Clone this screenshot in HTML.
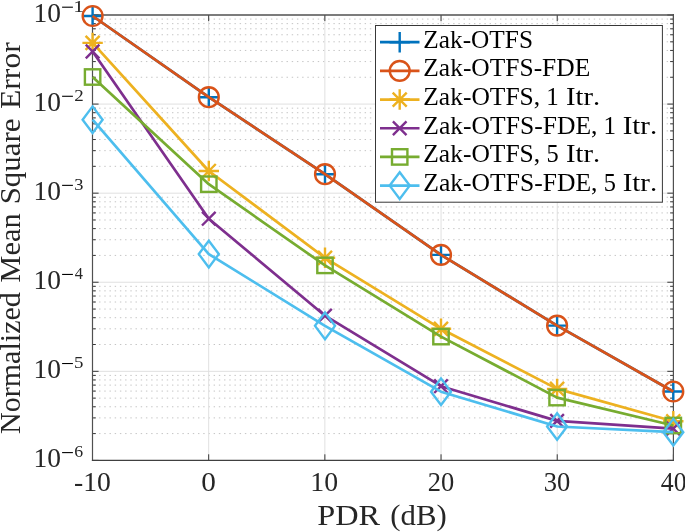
<!DOCTYPE html>
<html><head><meta charset="utf-8"><style>html,body{margin:0;padding:0;background:#fff;width:685px;height:532px;overflow:hidden}svg{display:block}text{font-family:"Liberation Serif",serif;font-kerning:none}text{filter:grayscale(1)}</style></head>
<body><svg width="685" height="532" viewBox="0 0 685 532" font-family="Liberation Serif, serif" fill="#262626"><rect x="0" y="0" width="685" height="532" fill="#fff"/><path d="M92.50 433.58H673.40M92.50 417.90H673.40M92.50 406.77H673.40M92.50 398.14H673.40M92.50 391.08H673.40M92.50 385.12H673.40M92.50 379.95H673.40M92.50 375.40H673.40M92.50 344.50H673.40M92.50 328.82H673.40M92.50 317.69H673.40M92.50 309.06H673.40M92.50 302.00H673.40M92.50 296.04H673.40M92.50 290.87H673.40M92.50 286.32H673.40M92.50 255.42H673.40M92.50 239.74H673.40M92.50 228.61H673.40M92.50 219.98H673.40M92.50 212.92H673.40M92.50 206.96H673.40M92.50 201.79H673.40M92.50 197.24H673.40M92.50 166.34H673.40M92.50 150.66H673.40M92.50 139.53H673.40M92.50 130.90H673.40M92.50 123.84H673.40M92.50 117.88H673.40M92.50 112.71H673.40M92.50 108.16H673.40M92.50 77.26H673.40M92.50 61.58H673.40M92.50 50.45H673.40M92.50 41.82H673.40M92.50 34.76H673.40M92.50 28.80H673.40M92.50 23.63H673.40M92.50 19.08H673.40" stroke="#c4c4c4" stroke-width="1" stroke-dasharray="1.4 3.807" stroke-dashoffset="-1.38" fill="none"/><path d="M208.68 15.00V460.40M324.86 15.00V460.40M441.04 15.00V460.40M557.22 15.00V460.40M92.50 371.32H673.40M92.50 282.24H673.40M92.50 193.16H673.40M92.50 104.08H673.40" stroke="#e0e0e0" stroke-width="1" fill="none"/><path d="M92.50 460.40v-6.1M92.50 15.00v6.1M208.68 460.40v-6.1M208.68 15.00v6.1M324.86 460.40v-6.1M324.86 15.00v6.1M441.04 460.40v-6.1M441.04 15.00v6.1M557.22 460.40v-6.1M557.22 15.00v6.1M673.40 460.40v-6.1M673.40 15.00v6.1M92.50 460.40h6.1M673.40 460.40h-6.1M92.50 371.32h6.1M673.40 371.32h-6.1M92.50 282.24h6.1M673.40 282.24h-6.1M92.50 193.16h6.1M673.40 193.16h-6.1M92.50 104.08h6.1M673.40 104.08h-6.1M92.50 15.00h6.1M673.40 15.00h-6.1M92.50 433.58h3.3M673.40 433.58h-3.3M92.50 417.90h3.3M673.40 417.90h-3.3M92.50 406.77h3.3M673.40 406.77h-3.3M92.50 398.14h3.3M673.40 398.14h-3.3M92.50 391.08h3.3M673.40 391.08h-3.3M92.50 385.12h3.3M673.40 385.12h-3.3M92.50 379.95h3.3M673.40 379.95h-3.3M92.50 375.40h3.3M673.40 375.40h-3.3M92.50 344.50h3.3M673.40 344.50h-3.3M92.50 328.82h3.3M673.40 328.82h-3.3M92.50 317.69h3.3M673.40 317.69h-3.3M92.50 309.06h3.3M673.40 309.06h-3.3M92.50 302.00h3.3M673.40 302.00h-3.3M92.50 296.04h3.3M673.40 296.04h-3.3M92.50 290.87h3.3M673.40 290.87h-3.3M92.50 286.32h3.3M673.40 286.32h-3.3M92.50 255.42h3.3M673.40 255.42h-3.3M92.50 239.74h3.3M673.40 239.74h-3.3M92.50 228.61h3.3M673.40 228.61h-3.3M92.50 219.98h3.3M673.40 219.98h-3.3M92.50 212.92h3.3M673.40 212.92h-3.3M92.50 206.96h3.3M673.40 206.96h-3.3M92.50 201.79h3.3M673.40 201.79h-3.3M92.50 197.24h3.3M673.40 197.24h-3.3M92.50 166.34h3.3M673.40 166.34h-3.3M92.50 150.66h3.3M673.40 150.66h-3.3M92.50 139.53h3.3M673.40 139.53h-3.3M92.50 130.90h3.3M673.40 130.90h-3.3M92.50 123.84h3.3M673.40 123.84h-3.3M92.50 117.88h3.3M673.40 117.88h-3.3M92.50 112.71h3.3M673.40 112.71h-3.3M92.50 108.16h3.3M673.40 108.16h-3.3M92.50 77.26h3.3M673.40 77.26h-3.3M92.50 61.58h3.3M673.40 61.58h-3.3M92.50 50.45h3.3M673.40 50.45h-3.3M92.50 41.82h3.3M673.40 41.82h-3.3M92.50 34.76h3.3M673.40 34.76h-3.3M92.50 28.80h3.3M673.40 28.80h-3.3M92.50 23.63h3.3M673.40 23.63h-3.3M92.50 19.08h3.3M673.40 19.08h-3.3" stroke="#383838" stroke-width="1" fill="none"/><path d="M92.5 14.1V460.9M673.4 14.1V460.9" stroke="#505050" stroke-width="1.2" fill="none"/><path d="M91.9 15.0H674.0" stroke="#505050" stroke-width="1.7" fill="none"/><path d="M91.9 460.4H674.0" stroke="#404040" stroke-width="1.1" fill="none"/><polyline points="92.60,16.00 208.80,97.20 325.00,174.20 441.00,254.90 557.10,325.60 673.30,391.50" stroke="#0072BD" stroke-width="2.7" fill="none" stroke-linejoin="round"/><path d="M82.40 16.00H102.80M92.60 5.80V26.20" stroke="#0072BD" stroke-width="2.4" fill="none"/><path d="M198.60 97.20H219.00M208.80 87.00V107.40" stroke="#0072BD" stroke-width="2.4" fill="none"/><path d="M314.80 174.20H335.20M325.00 164.00V184.40" stroke="#0072BD" stroke-width="2.4" fill="none"/><path d="M430.80 254.90H451.20M441.00 244.70V265.10" stroke="#0072BD" stroke-width="2.4" fill="none"/><path d="M546.90 325.60H567.30M557.10 315.40V335.80" stroke="#0072BD" stroke-width="2.4" fill="none"/><path d="M663.10 391.50H683.50M673.30 381.30V401.70" stroke="#0072BD" stroke-width="2.4" fill="none"/><polyline points="92.60,16.00 208.80,97.20 325.00,174.20 441.00,254.90 557.10,325.60 673.30,391.50" stroke="#D95319" stroke-width="2.7" fill="none" stroke-linejoin="round"/><circle cx="92.60" cy="16.00" r="9.9" stroke="#D95319" stroke-width="2.4" fill="none"/><circle cx="208.80" cy="97.20" r="9.9" stroke="#D95319" stroke-width="2.4" fill="none"/><circle cx="325.00" cy="174.20" r="9.9" stroke="#D95319" stroke-width="2.4" fill="none"/><circle cx="441.00" cy="254.90" r="9.9" stroke="#D95319" stroke-width="2.4" fill="none"/><circle cx="557.10" cy="325.60" r="9.9" stroke="#D95319" stroke-width="2.4" fill="none"/><circle cx="673.30" cy="391.50" r="9.9" stroke="#D95319" stroke-width="2.4" fill="none"/><polyline points="92.60,42.90 208.80,171.00 325.00,257.80 441.00,328.80 557.10,388.90 673.30,421.30" stroke="#EDB120" stroke-width="2.7" fill="none" stroke-linejoin="round"/><path d="M82.40 42.90H102.80M92.60 32.70V53.10M85.60 35.90L99.60 49.90M85.60 49.90L99.60 35.90" stroke="#EDB120" stroke-width="2.4" fill="none"/><path d="M198.60 171.00H219.00M208.80 160.80V181.20M201.80 164.00L215.80 178.00M201.80 178.00L215.80 164.00" stroke="#EDB120" stroke-width="2.4" fill="none"/><path d="M314.80 257.80H335.20M325.00 247.60V268.00M318.00 250.80L332.00 264.80M318.00 264.80L332.00 250.80" stroke="#EDB120" stroke-width="2.4" fill="none"/><path d="M430.80 328.80H451.20M441.00 318.60V339.00M434.00 321.80L448.00 335.80M434.00 335.80L448.00 321.80" stroke="#EDB120" stroke-width="2.4" fill="none"/><path d="M546.90 388.90H567.30M557.10 378.70V399.10M550.10 381.90L564.10 395.90M550.10 395.90L564.10 381.90" stroke="#EDB120" stroke-width="2.4" fill="none"/><path d="M663.10 421.30H683.50M673.30 411.10V431.50M666.30 414.30L680.30 428.30M666.30 428.30L680.30 414.30" stroke="#EDB120" stroke-width="2.4" fill="none"/><polyline points="92.60,51.50 208.80,218.70 325.00,315.70 441.00,386.20 557.10,420.90 673.30,428.60" stroke="#7E2F8E" stroke-width="2.7" fill="none" stroke-linejoin="round"/><path d="M85.80 44.70L99.40 58.30M85.80 58.30L99.40 44.70" stroke="#7E2F8E" stroke-width="2.4" fill="none"/><path d="M202.00 211.90L215.60 225.50M202.00 225.50L215.60 211.90" stroke="#7E2F8E" stroke-width="2.4" fill="none"/><path d="M318.20 308.90L331.80 322.50M318.20 322.50L331.80 308.90" stroke="#7E2F8E" stroke-width="2.4" fill="none"/><path d="M434.20 379.40L447.80 393.00M434.20 393.00L447.80 379.40" stroke="#7E2F8E" stroke-width="2.4" fill="none"/><path d="M550.30 414.10L563.90 427.70M550.30 427.70L563.90 414.10" stroke="#7E2F8E" stroke-width="2.4" fill="none"/><path d="M666.50 421.80L680.10 435.40M666.50 435.40L680.10 421.80" stroke="#7E2F8E" stroke-width="2.4" fill="none"/><polyline points="92.60,77.00 208.80,184.20 325.00,265.40 441.00,336.60 557.10,397.60 673.30,425.50" stroke="#77AC30" stroke-width="2.7" fill="none" stroke-linejoin="round"/><rect x="84.90" y="69.30" width="15.40" height="15.40" stroke="#77AC30" stroke-width="2.4" fill="none"/><rect x="201.10" y="176.50" width="15.40" height="15.40" stroke="#77AC30" stroke-width="2.4" fill="none"/><rect x="317.30" y="257.70" width="15.40" height="15.40" stroke="#77AC30" stroke-width="2.4" fill="none"/><rect x="433.30" y="328.90" width="15.40" height="15.40" stroke="#77AC30" stroke-width="2.4" fill="none"/><rect x="549.40" y="389.90" width="15.40" height="15.40" stroke="#77AC30" stroke-width="2.4" fill="none"/><rect x="665.60" y="417.80" width="15.40" height="15.40" stroke="#77AC30" stroke-width="2.4" fill="none"/><polyline points="92.60,119.70 208.80,254.10 325.00,325.85 441.00,391.70 557.10,426.50 673.30,432.20" stroke="#4DBEEE" stroke-width="2.7" fill="none" stroke-linejoin="round"/><path d="M92.60 106.40L102.60 119.70L92.60 133.00L82.60 119.70Z" stroke="#4DBEEE" stroke-width="2.4" fill="none"/><path d="M208.80 240.80L218.80 254.10L208.80 267.40L198.80 254.10Z" stroke="#4DBEEE" stroke-width="2.4" fill="none"/><path d="M325.00 312.55L335.00 325.85L325.00 339.15L315.00 325.85Z" stroke="#4DBEEE" stroke-width="2.4" fill="none"/><path d="M441.00 378.40L451.00 391.70L441.00 405.00L431.00 391.70Z" stroke="#4DBEEE" stroke-width="2.4" fill="none"/><path d="M557.10 413.20L567.10 426.50L557.10 439.80L547.10 426.50Z" stroke="#4DBEEE" stroke-width="2.4" fill="none"/><path d="M673.30 418.90L683.30 432.20L673.30 445.50L663.30 432.20Z" stroke="#4DBEEE" stroke-width="2.4" fill="none"/><rect x="375.5" y="25.5" width="286.90" height="176.70" stroke="#383838" stroke-width="1" fill="#fff"/><path d="M380 42.20H419.5" stroke="#0072BD" stroke-width="2.7"/><path d="M389.50 42.20H409.90M399.70 32.00V52.40" stroke="#0072BD" stroke-width="2.4" fill="none"/><text transform="translate(423.29,47.70) scale(1.0374,1)" font-size="24.4" fill="#000">Zak-OTFS</text><path d="M380 70.88H419.5" stroke="#D95319" stroke-width="2.7"/><circle cx="399.70" cy="70.88" r="9.9" stroke="#D95319" stroke-width="2.4" fill="none"/><text transform="translate(423.28,76.38) scale(1.0440,1)" font-size="24.4" fill="#000">Zak-OTFS-FDE</text><path d="M380 99.56H419.5" stroke="#EDB120" stroke-width="2.7"/><path d="M389.50 99.56H409.90M399.70 89.36V109.76M392.70 92.56L406.70 106.56M392.70 106.56L406.70 92.56" stroke="#EDB120" stroke-width="2.4" fill="none"/><text transform="translate(423.28,105.06) scale(1.0456,1)" font-size="24.4" fill="#000">Zak-OTFS,</text><text transform="translate(546.20,105.06) scale(1.0244,1)" font-size="24.4" fill="#000">1</text><text transform="translate(566.07,105.06) scale(1.1712,1)" font-size="24.4" fill="#000">Itr.</text><path d="M380 128.24H419.5" stroke="#7E2F8E" stroke-width="2.7"/><path d="M392.90 121.44L406.50 135.04M392.90 135.04L406.50 121.44" stroke="#7E2F8E" stroke-width="2.4" fill="none"/><text transform="translate(423.28,133.74) scale(1.0487,1)" font-size="24.4" fill="#000">Zak-OTFS-FDE,</text><text transform="translate(603.50,133.74) scale(1.0244,1)" font-size="24.4" fill="#000">1</text><text transform="translate(622.76,133.74) scale(1.1824,1)" font-size="24.4" fill="#000">Itr.</text><path d="M380 156.92H419.5" stroke="#77AC30" stroke-width="2.7"/><rect x="392.00" y="149.22" width="15.40" height="15.40" stroke="#77AC30" stroke-width="2.4" fill="none"/><text transform="translate(423.28,162.42) scale(1.0456,1)" font-size="24.4" fill="#000">Zak-OTFS,</text><text transform="translate(546.47,162.42) scale(1.0000,1)" font-size="24.4" fill="#000">5</text><text transform="translate(566.07,162.42) scale(1.1712,1)" font-size="24.4" fill="#000">Itr.</text><path d="M380 185.60H419.5" stroke="#4DBEEE" stroke-width="2.7"/><path d="M399.70 172.30L409.70 185.60L399.70 198.90L389.70 185.60Z" stroke="#4DBEEE" stroke-width="2.4" fill="none"/><text transform="translate(423.28,191.10) scale(1.0487,1)" font-size="24.4" fill="#000">Zak-OTFS-FDE,</text><text transform="translate(603.77,191.10) scale(1.0000,1)" font-size="24.4" fill="#000">5</text><text transform="translate(622.76,191.10) scale(1.1824,1)" font-size="24.4" fill="#000">Itr.</text><text transform="translate(33.49,467.10) scale(1.0058,1)" font-size="27.3" >10</text><path d="M62.1 452.60H72.9" stroke="#000" stroke-width="1.1"/><text transform="translate(74.34,457.20) scale(1.0282,1)" font-size="17.3" >6</text><text transform="translate(33.49,378.02) scale(1.0058,1)" font-size="27.3" >10</text><path d="M62.1 363.52H72.9" stroke="#000" stroke-width="1.1"/><text transform="translate(74.00,368.12) scale(1.0905,1)" font-size="17.3" >5</text><text transform="translate(33.49,288.94) scale(1.0058,1)" font-size="27.3" >10</text><path d="M62.1 274.44H72.9" stroke="#000" stroke-width="1.1"/><text transform="translate(74.78,279.04) scale(0.9451,1)" font-size="17.3" >4</text><text transform="translate(33.49,199.86) scale(1.0058,1)" font-size="27.3" >10</text><path d="M62.1 185.36H72.9" stroke="#000" stroke-width="1.1"/><text transform="translate(74.22,189.96) scale(1.0635,1)" font-size="17.3" >3</text><text transform="translate(33.49,110.78) scale(1.0058,1)" font-size="27.3" >10</text><path d="M62.1 96.28H72.9" stroke="#000" stroke-width="1.1"/><text transform="translate(74.27,100.88) scale(1.0959,1)" font-size="17.3" >2</text><text transform="translate(33.49,21.70) scale(1.0058,1)" font-size="27.3" >10</text><path d="M62.1 7.20H72.9" stroke="#000" stroke-width="1.1"/><text transform="translate(73.20,11.80) scale(1.2478,1)" font-size="17.3" >1</text><text transform="translate(74.07,490.50) scale(1.0134,1)" font-size="27.3" >-10</text><text transform="translate(201.37,490.50) scale(1.0717,1)" font-size="27.3" >0</text><text transform="translate(310.27,490.50) scale(1.0184,1)" font-size="27.3" >10</text><text transform="translate(427.73,490.50) scale(0.9697,1)" font-size="27.3" >20</text><text transform="translate(543.80,490.50) scale(0.9738,1)" font-size="27.3" >30</text><text transform="translate(660.75,490.50) scale(0.9445,1)" font-size="27.3" >40</text><text transform="translate(317.27,524.60) scale(1.1302,1)" font-size="28.6" >PDR</text><text transform="translate(390.35,524.60) scale(1.0759,1)" font-size="28.6" >(dB)</text><g transform="translate(20.1,433.97) rotate(-90)"><text transform="scale(1.0433,1)" font-size="28.8">Normalized</text></g><g transform="translate(20.1,282.68) rotate(-90)"><text transform="scale(1.0574,1)" font-size="28.8">Mean</text></g><g transform="translate(20.1,204.37) rotate(-90)"><text transform="scale(1.0734,1)" font-size="28.8">Square</text></g><g transform="translate(20.1,109.01) rotate(-90)"><text transform="scale(1.0992,1)" font-size="28.8">Error</text></g></svg></body></html>
